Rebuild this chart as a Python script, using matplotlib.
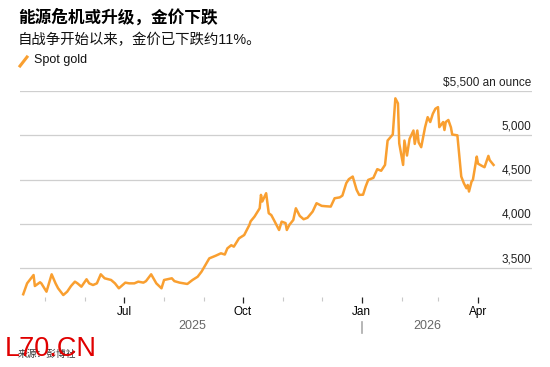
import matplotlib.pyplot as plt
import matplotlib.dates as mdates
import matplotlib.transforms as mtransforms
from matplotlib.lines import Line2D
import pandas as pd

plt.rcParams['font.family'] = ['Liberation Sans', 'Noto Sans CJK SC', 'DejaVu Sans']

title = "能源危机或升级，金价下跌"
subtitle = "自战争开始以来，金价已下跌约11%。"
series_name = "Spot gold"
source = "来源：彭博社"
watermark = "L70.CN"

# spot gold, $ per ounce
dates = [
    "2025-04-14", "2025-04-17", "2025-04-18", "2025-04-22", "2025-04-23", "2025-04-27",
    "2025-04-28", "2025-05-02", "2025-05-06", "2025-05-09", "2025-05-11", "2025-05-15",
    "2025-05-18", "2025-05-21", "2025-05-24", "2025-05-26", "2025-05-29", "2025-06-02",
    "2025-06-04", "2025-06-07", "2025-06-10", "2025-06-13", "2025-06-16", "2025-06-21",
    "2025-06-24", "2025-06-27", "2025-07-02", "2025-07-05", "2025-07-09", "2025-07-12",
    "2025-07-16", "2025-07-18", "2025-07-22", "2025-07-26", "2025-07-30", "2025-08-01",
    "2025-08-07", "2025-08-09", "2025-08-13", "2025-08-16", "2025-08-19", "2025-08-23",
    "2025-08-27", "2025-08-30", "2025-09-02", "2025-09-05", "2025-09-10", "2025-09-14",
    "2025-09-17", "2025-09-19", "2025-09-22", "2025-09-24", "2025-09-28", "2025-10-02",
    "2025-10-06", "2025-10-07", "2025-10-10", "2025-10-14", "2025-10-15", "2025-10-16",
    "2025-10-19", "2025-10-21", "2025-10-23", "2025-10-25", "2025-10-29", "2025-10-31",
    "2025-11-03", "2025-11-04", "2025-11-06", "2025-11-09", "2025-11-11", "2025-11-14",
    "2025-11-17", "2025-11-20", "2025-11-24", "2025-11-27", "2025-12-01", "2025-12-04",
    "2025-12-08", "2025-12-11", "2025-12-15", "2025-12-17", "2025-12-20", "2025-12-22",
    "2025-12-25", "2025-12-28", "2025-12-30", "2026-01-02", "2026-01-04", "2026-01-06",
    "2026-01-10", "2026-01-13", "2026-01-16", "2026-01-19", "2026-01-21", "2026-01-25",
    "2026-01-27", "2026-01-29", "2026-01-30", "2026-02-02", "2026-02-03", "2026-02-05",
    "2026-02-07", "2026-02-10", "2026-02-11", "2026-02-13", "2026-02-14", "2026-02-16",
    "2026-02-19", "2026-02-21", "2026-02-23", "2026-02-25", "2026-02-27", "2026-03-01",
    "2026-03-02", "2026-03-04", "2026-03-05", "2026-03-06", "2026-03-07", "2026-03-09",
    "2026-03-11", "2026-03-12", "2026-03-16", "2026-03-19", "2026-03-21", "2026-03-23",
    "2026-03-24", "2026-03-25", "2026-03-27", "2026-03-28", "2026-03-31", "2026-04-01",
    "2026-04-04", "2026-04-06", "2026-04-09", "2026-04-10", "2026-04-13",
]
prices = [
    3207, 3330, 3349, 3424, 3300, 3342,
    3330, 3236, 3432, 3330, 3274, 3198,
    3236, 3300, 3349, 3330, 3292, 3376,
    3330, 3311, 3330, 3432, 3387, 3368,
    3330, 3274, 3338, 3330, 3330, 3349,
    3338, 3355, 3432, 3330, 3274, 3368,
    3387, 3355, 3338, 3330, 3323, 3368,
    3405, 3462, 3537, 3612, 3642, 3669,
    3655, 3725, 3760, 3744, 3838, 3875,
    3988, 4030, 4083, 4177, 4328, 4253,
    4347, 4121, 4100, 4045, 3932, 4026,
    4010, 3932, 3990, 4045, 4177, 4091,
    4053, 4070, 4140, 4234, 4204, 4200,
    4196, 4290, 4300, 4320, 4460, 4505,
    4535, 4385, 4328, 4330, 4422, 4497,
    4520, 4618, 4600, 4666, 4941, 5009,
    5417, 5360, 4909, 4666, 4941, 4772,
    4960, 5054, 4903, 5054, 4920, 4866,
    5092, 5205, 5150, 5243, 5300, 5318,
    5092, 5130, 5150, 5060, 5150, 5173,
    5090, 5009, 5000, 4535, 4460, 4403,
    4440, 4366, 4480, 4497, 4760, 4680,
    4655, 4640, 4768, 4720, 4666,
]

yticks = [3500, 4000, 4500, 5000, 5500]
ytick_labels = ["3,500", "4,000", "4,500", "5,000", "$5,500 an ounce"]
years = ["2025", "2026"]

dates = pd.to_datetime(dates)
orange = "#f99f30"
W, H = 550, 367

fig = plt.figure(figsize=(5.5, 3.67), dpi=100)
ax = fig.add_axes([20 / W, (H - 297) / H, 512 / W, 206 / H])

ax.plot(dates, prices, color=orange, lw=1.8, solid_joinstyle='round')

ax.set_ylim(3176, 5500)
ax.set_xlim(pd.Timestamp("2025-04-11 12:00"), pd.Timestamp("2026-05-12 18:00"))
for s in ax.spines.values():
    s.set_visible(False)

# y grid + labels sitting above the lines on the right
ax.set_yticks(yticks)
ax.tick_params(axis='y', length=0, labelleft=False)
ax.grid(axis='y', color='#cfcfcf', lw=0.9)
ax.set_axisbelow(True)
ytr = mtransforms.offset_copy(ax.get_yaxis_transform(), fig=fig, x=-1, y=6, units='dots')
for v, lab in zip(yticks, ytick_labels):
    ax.text(1.0, v, lab, transform=ytr, ha='right', va='baseline', fontsize=8.5, color='#222222')

# x ticks: quarters labelled, other months as small gray ticks
major = pd.to_datetime(["2025-07-01", "2025-10-01", "2026-01-01", "2026-04-01"])
minor = [d for d in pd.date_range("2025-05-01", "2026-03-01", freq="MS") if d not in major]
ax.set_xticks(major)
ax.set_xticks(minor, minor=True)
ax.xaxis.set_major_formatter(mdates.DateFormatter('%b'))
ax.tick_params(axis='x', which='major', length=4.5, width=0.9, color='#222222', pad=2,
               labelsize=8.5, labelcolor='black')
ax.tick_params(axis='x', which='minor', length=3, width=0.8, color='#c8c8c8')

# year row
xtr = ax.get_xaxis_transform()
jan = pd.Timestamp("2026-01-01")
ax.text(dates[0] + (jan - dates[0]) / 2, -0.14, years[0], transform=xtr, ha='center', va='center',
        fontsize=9, color='#666666')
ax.text(jan + (dates[-1] - jan) / 2, -0.14, years[1], transform=xtr, ha='center', va='center',
        fontsize=9, color='#666666')
ax.plot([jan, jan], [-0.122, -0.175], transform=xtr, color='#aaaaaa', lw=1.2, clip_on=False)

# header
fig.text(18 / W, 1 - 16.5 / H, title, fontsize=12, fontweight='bold', ha='left', va='center')
fig.text(18 / W, 1 - 40 / H, subtitle, fontsize=10.4, ha='left', va='center', color='#111111')
fig.add_artist(Line2D([20 / W, 27 / W], [1 - 66 / H, 1 - 57 / H], color=orange, lw=2.2,
                      transform=fig.transFigure))
fig.text(34 / W, 1 - 60 / H, series_name, fontsize=9, ha='left', va='center', color='#111111')

# footer
fig.text(18 / W, 1 - 354 / H, source, fontsize=7, ha='left', va='center', color='#333333')
fig.text(5 / W, 1 - 356 / H, watermark, fontsize=19.5, ha='left', va='baseline', color='#e00000')

fig.savefig("out.png", dpi=100)
